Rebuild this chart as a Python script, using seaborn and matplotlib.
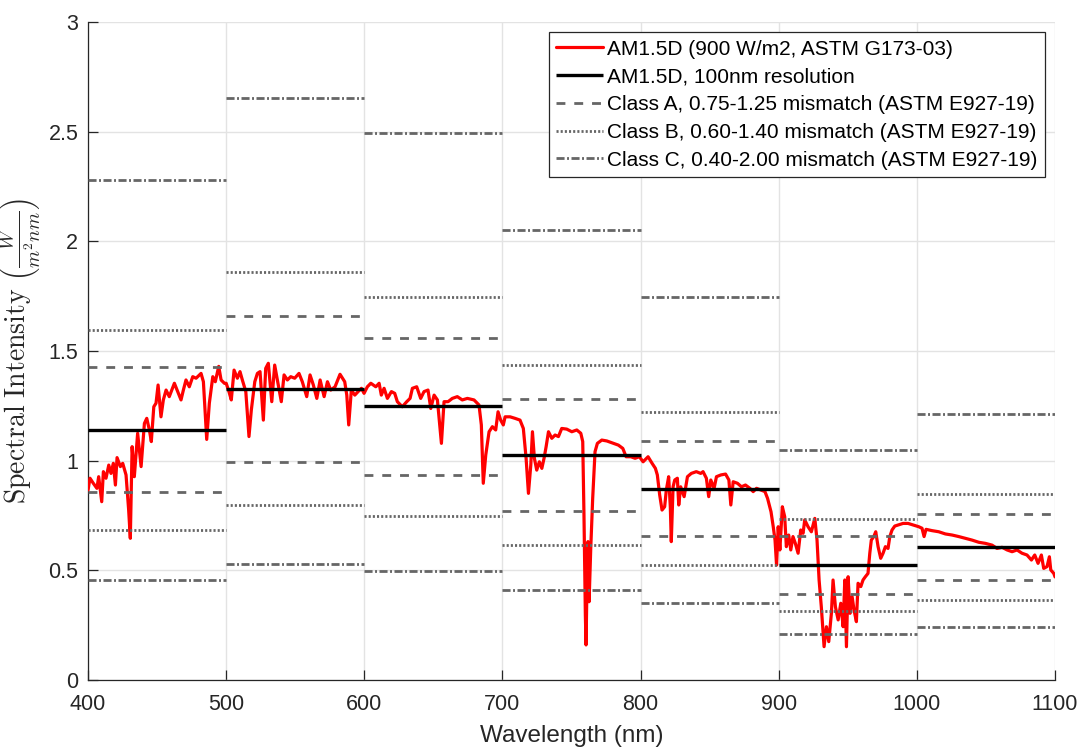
import matplotlib
matplotlib.use("Agg")
import matplotlib.pyplot as plt
import seaborn as sns
import pandas as pd

# ---------------- data ----------------
wavelength = [
    400.0, 401.4, 403.8, 406.4, 407.7, 409.9, 411.1, 413.0, 415.0, 416.6, 418.3, 419.8, 421.0, 423.4, 425.1,
    427.5, 429.4, 430.6, 431.9, 433.5, 435.9, 438.4, 440.8, 442.5, 444.4, 445.8, 447.6, 449.2, 450.7, 452.8,
    454.5, 456.5, 458.8, 462.5, 464.9, 467.3, 469.0, 470.9, 473.3, 475.8, 478.2, 481.8, 483.5, 485.9, 487.8,
    490.3, 492.1, 494.6, 496.3, 498.7, 500.0, 502.0, 503.7, 505.7, 508.1, 510.0, 511.7, 514.2, 516.5, 518.2,
    520.7, 522.6, 524.5, 526.9, 528.6, 530.5, 533.0, 535.1, 537.5, 539.9, 541.9, 544.3, 546.7, 549.6, 552.7,
    555.1, 558.3, 560.7, 563.1, 565.6, 568.0, 570.9, 573.3, 575.7, 578.8, 582.4, 585.8, 587.3, 588.7, 590.6,
    593.1, 595.5, 597.9, 599.8, 602.2, 604.7, 608.3, 610.7, 612.3, 614.3, 616.7, 619.6, 622.0, 623.9, 627.5,
    630.7, 633.1, 634.8, 637.9, 640.8, 643.2, 646.1, 648.1, 650.5, 652.9, 655.8, 657.7, 660.6, 663.7, 667.3,
    670.9, 674.6, 679.4, 683.0, 684.7, 686.1, 687.9, 690.3, 692.7, 695.1, 696.8, 698.7, 700.6, 701.9, 705.5,
    709.1, 712.7, 715.1, 717.1, 718.8, 720.5, 721.7, 723.1, 724.8, 726.7, 728.5, 730.1, 731.6, 733.3, 735.7,
    738.1, 740.5, 742.9, 746.5, 750.2, 753.8, 756.7, 758.1, 759.0, 760.0, 760.5, 761.2, 761.9, 762.7, 763.9,
    765.3, 767.0, 768.7, 771.9, 775.5, 780.3, 783.9, 787.1, 789.5, 792.9, 796.0, 799.1, 801.8, 805.4, 808.3,
    810.7, 812.1, 813.8, 815.5, 817.4, 818.6, 820.3, 821.5, 822.2, 823.5, 824.7, 826.6, 827.6, 829.0, 831.5,
    833.9, 836.7, 840.3, 843.5, 845.2, 847.6, 849.3, 850.8, 853.2, 854.9, 858.1, 861.5, 863.9, 865.3, 867.0,
    870.1, 873.0, 875.9, 879.1, 881.5, 883.9, 887.1, 890.0, 891.9, 894.4, 896.0, 897.3, 898.4, 899.6, 900.8,
    902.6, 904.3, 905.5, 907.2, 908.7, 910.3, 912.0, 914.0, 915.9, 917.6, 918.8, 921.2, 923.6, 926.1, 927.7,
    929.2, 930.8, 932.8, 934.5, 936.2, 938.1, 939.3, 941.0, 943.0, 944.9, 946.6, 947.8, 949.0, 950.2, 951.6,
    953.1, 954.5, 956.2, 957.4, 959.4, 961.0, 962.7, 964.6, 965.9, 967.0, 968.8, 970.2, 971.9, 973.8, 975.5,
    977.2, 979.1, 980.4, 982.0, 984.0, 986.4, 990.0, 993.6, 997.2, 1001.3, 1003.7, 1005.2, 1006.6, 1011.0,
    1015.8, 1020.6, 1025.5, 1030.3, 1035.1, 1039.9, 1044.8, 1049.6, 1054.4, 1058.0, 1061.7, 1065.3, 1068.9,
    1072.5, 1076.1, 1079.7, 1082.9, 1085.3, 1087.7, 1090.1, 1091.8, 1094.2, 1095.9, 1096.9, 1099.1, 1100.0,
]
intensity = [
    0.866, 0.920, 0.897, 0.874, 0.927, 0.813, 0.950, 0.920, 0.980, 0.942, 0.988, 0.889, 1.014, 0.973, 0.988,
    0.935, 0.775, 0.646, 1.064, 0.927, 1.125, 0.973, 1.170, 1.193, 1.140, 1.087, 1.246, 1.262, 1.345, 1.200,
    1.277, 1.322, 1.292, 1.353, 1.315, 1.277, 1.322, 1.368, 1.337, 1.383, 1.376, 1.398, 1.360, 1.097, 1.262,
    1.383, 1.360, 1.430, 1.368, 1.353, 1.353, 1.315, 1.277, 1.413, 1.376, 1.406, 1.368, 1.315, 1.110, 1.231,
    1.360, 1.398, 1.406, 1.185, 1.421, 1.444, 1.269, 1.436, 1.353, 1.269, 1.391, 1.368, 1.383, 1.376, 1.398,
    1.360, 1.292, 1.391, 1.345, 1.284, 1.368, 1.292, 1.360, 1.322, 1.337, 1.394, 1.360, 1.299, 1.163, 1.322,
    1.299, 1.315, 1.330, 1.307, 1.337, 1.353, 1.337, 1.353, 1.299, 1.330, 1.284, 1.315, 1.307, 1.269, 1.246,
    1.269, 1.284, 1.330, 1.337, 1.284, 1.315, 1.322, 1.238, 1.299, 1.277, 1.079, 1.269, 1.269, 1.284, 1.292,
    1.277, 1.284, 1.277, 1.254, 1.163, 0.897, 1.026, 1.132, 1.155, 1.140, 1.223, 1.185, 1.163, 1.200, 1.200,
    1.193, 1.185, 1.147, 1.011, 0.851, 0.980, 1.132, 1.011, 0.957, 0.995, 0.965, 1.011, 1.064, 1.132, 1.102,
    1.117, 1.110, 1.147, 1.144, 1.132, 1.140, 1.125, 1.087, 0.752, 0.296, 0.160, 0.448, 0.631, 0.357, 0.600,
    0.828, 1.041, 1.079, 1.094, 1.090, 1.079, 1.071, 1.056, 1.018, 1.018, 1.011, 1.018, 0.995, 1.018, 0.988,
    0.965, 0.935, 0.844, 0.775, 0.790, 0.866, 0.927, 0.790, 0.631, 0.881, 0.912, 0.920, 0.798, 0.881, 0.836,
    0.927, 0.942, 0.950, 0.942, 0.950, 0.920, 0.836, 0.912, 0.874, 0.927, 0.935, 0.939, 0.912, 0.798, 0.904,
    0.897, 0.881, 0.889, 0.874, 0.859, 0.874, 0.866, 0.859, 0.828, 0.767, 0.699, 0.638, 0.524, 0.699, 0.593,
    0.790, 0.745, 0.608, 0.661, 0.593, 0.654, 0.623, 0.578, 0.684, 0.669, 0.730, 0.699, 0.676, 0.737, 0.638,
    0.456, 0.334, 0.152, 0.243, 0.175, 0.304, 0.456, 0.334, 0.274, 0.350, 0.243, 0.456, 0.152, 0.471, 0.304,
    0.380, 0.319, 0.266, 0.441, 0.426, 0.456, 0.471, 0.486, 0.578, 0.638, 0.654, 0.676, 0.608, 0.555, 0.578,
    0.608, 0.600, 0.654, 0.684, 0.702, 0.707, 0.714, 0.714, 0.707, 0.699, 0.692, 0.654, 0.687, 0.681,
    0.676, 0.666, 0.661, 0.654, 0.646, 0.638, 0.628, 0.623, 0.615, 0.600, 0.605, 0.593, 0.585,
    0.593, 0.578, 0.570, 0.547, 0.570, 0.532, 0.570, 0.509, 0.517, 0.562, 0.502, 0.486, 0.470,
]

band_start = [400, 500, 600, 700, 800, 900, 1000]
band_end = [500, 600, 700, 800, 900, 1000, 1100]
band_mean = [1.140, 1.327, 1.248, 1.026, 0.873, 0.525, 0.607]
class_a_low = [0.855, 0.995, 0.936, 0.770, 0.655, 0.394, 0.455]
class_a_high = [1.425, 1.659, 1.560, 1.283, 1.091, 0.656, 0.759]
class_b_low = [0.684, 0.796, 0.749, 0.616, 0.524, 0.315, 0.364]
class_b_high = [1.596, 1.858, 1.747, 1.436, 1.222, 0.735, 0.850]
class_c_low = [0.456, 0.531, 0.499, 0.410, 0.349, 0.210, 0.243]
class_c_high = [2.280, 2.654, 2.496, 2.052, 1.746, 1.050, 1.214]

x_ticks = [400, 500, 600, 700, 800, 900, 1000, 1100]
y_ticks = [0, 0.5, 1, 1.5, 2, 2.5, 3]
y_tick_labels = ["0", "0.5", "1", "1.5", "2", "2.5", "3"]

labels = [
    "AM1.5D (900 W/m2, ASTM G173-03)",
    "AM1.5D, 100nm resolution",
    "Class A, 0.75-1.25 mismatch (ASTM E927-19)",
    "Class B, 0.60-1.40 mismatch (ASTM E927-19)",
    "Class C, 0.40-2.00 mismatch (ASTM E927-19)",
]

# ---------------- style ----------------
sns.set_theme(style="white")
plt.rcParams["font.family"] = ["Liberation Sans", "DejaVu Sans"]
plt.rcParams["mathtext.fontset"] = "cm"

AX_COLOR = "#262626"
GRAY = "#666666"
LW = 2.0

fig = plt.figure(figsize=(10.87, 7.49), dpi=100)
ax = fig.add_axes([0.081, 0.0921, 0.8896, 0.8785])

spec = pd.DataFrame({"wl": wavelength, "irr": intensity})
sns.lineplot(data=spec, x="wl", y="irr", ax=ax, color="#ff0000", lw=2.3,
             estimator=None, sort=False, label=labels[0], zorder=3)

def draw_bands(values, style, color, label, z, lw=LW):
    for i, (x0, x1, v) in enumerate(zip(band_start, band_end, values)):
        ax.plot([x0, x1], [v, v], linestyle=style, color=color, lw=lw,
                label=label if i == 0 else None, zorder=z, solid_capstyle="butt",
                dash_capstyle="butt")

draw_bands(band_mean, "-", "black", labels[1], 4, lw=2.4)
dash_a = (0, (3.2, 3.2))
dot_b = (0, (0.75, 0.75))
dashdot_c = (0, (2.9, 0.9, 0.7, 0.9))
draw_bands(class_a_low, dash_a, GRAY, labels[2], 5)
draw_bands(class_a_high, dash_a, GRAY, None, 5)
draw_bands(class_b_low, dot_b, GRAY, labels[3], 5)
draw_bands(class_b_high, dot_b, GRAY, None, 5)
draw_bands(class_c_low, dashdot_c, GRAY, labels[4], 5)
draw_bands(class_c_high, dashdot_c, GRAY, None, 5)

ax.set_xlim(400, 1100)
ax.set_ylim(0, 3)
ax.set_xticks(x_ticks)
ax.set_xticklabels([str(t) for t in x_ticks])
ax.set_yticks(y_ticks)
ax.set_yticklabels(y_tick_labels)

ax.grid(True, color="#e3e3e3", lw=1.0, zorder=0)
ax.set_axisbelow(True)
for s in ["top", "right"]:
    ax.spines[s].set_visible(False)
for s in ["left", "bottom"]:
    ax.spines[s].set_color(AX_COLOR)
    ax.spines[s].set_linewidth(0.9)

ax.tick_params(axis="both", direction="in", length=7, width=0.9, colors=AX_COLOR,
               labelsize=15.5, left=True, bottom=True)
ax.tick_params(axis="y", pad=7)
ax.tick_params(axis="x", pad=10)

ax.set_xlabel("Wavelength (nm)", fontsize=17.5, color=AX_COLOR, labelpad=7)
ax.set_ylabel(r"$\mathrm{Spectral\ Intensity}\ \left(\frac{W}{m^{2}nm}\right)$",
              fontsize=20, color=AX_COLOR)
ax.yaxis.set_label_coords(-0.0455, 0.5)

handles, lbls = ax.get_legend_handles_labels()
leg = ax.legend(handles, lbls, loc="upper right", fontsize=15, frameon=True,
                fancybox=False, framealpha=1, edgecolor=AX_COLOR, borderpad=0.35,
                labelspacing=0.42, handlelength=2.25, handletextpad=0.2,
                borderaxespad=0.5)
leg.get_frame().set_linewidth(0.9)
for t in leg.get_texts():
    t.set_color("black")

fig.savefig("out.png", dpi=100)
